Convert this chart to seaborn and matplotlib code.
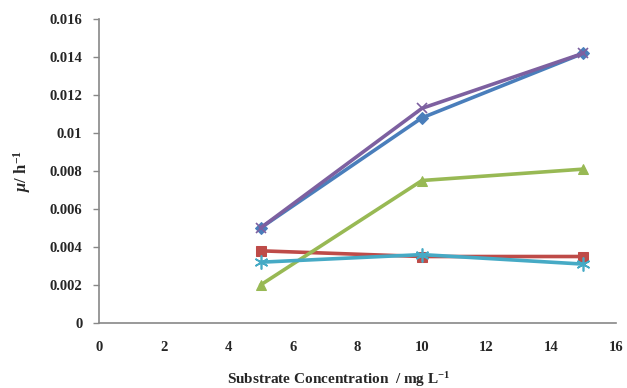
import matplotlib
matplotlib.use("Agg")
import matplotlib.pyplot as plt
import seaborn as sns
import pandas as pd

conc = [5, 10, 15]
series_names = ["S1", "S2", "S3", "S4", "S5"]
s1 = [0.0050, 0.0108, 0.0142]
s2 = [0.0038, 0.0035, 0.0035]
s3 = [0.0020, 0.0075, 0.0081]
s4 = [0.0050, 0.0113, 0.0142]
s5 = [0.0032, 0.0036, 0.0031]
xticks = [0, 2, 4, 6, 8, 10, 12, 14, 16]
yticks = [0, 0.002, 0.004, 0.006, 0.008, 0.01, 0.012, 0.014, 0.016]
ytick_labels = ["0", "0.002", "0.004", "0.006", "0.008", "0.01", "0.012", "0.014", "0.016"]

sns.set_style("white")
plt.rcParams['font.family'] = ['Liberation Serif', 'DejaVu Serif']
plt.rcParams['mathtext.fontset'] = 'custom'
plt.rcParams['mathtext.rm'] = 'Liberation Serif:bold'
plt.rcParams['mathtext.bf'] = 'Liberation Serif:bold'
plt.rcParams['mathtext.it'] = 'Liberation Serif:italic:bold'

fig = plt.figure(figsize=(6.27, 3.88), dpi=100)
ax = fig.add_axes([0.158, 0.1675, 0.824, 0.7835])

styles = [
    (s1, "#4A7EBB", "D", 6),
    (s2, "#BE4B48", "s", 7.5),
    (s3, "#98B954", "^", 7.5),
    (s4, "#7D60A0", "x", 7),
    (s5, "#46AAC5", (6, 2, 0), 10),
]
for name, (vals, col, mk, ms) in zip(series_names, styles):
    df = pd.DataFrame({"x": conc, "y": vals})
    kw = dict(markeredgecolor=col, markerfacecolor=col)
    if mk == "x" or isinstance(mk, tuple):
        kw["markeredgewidth"] = 1.2
    sns.lineplot(data=df, x="x", y="y", ax=ax, color=col, linewidth=2.6,
                 marker=mk, markersize=ms, **kw)

ax.set_xlim(0, 16)
ax.set_ylim(0, 0.016)
ax.set_xticks(xticks)
ax.set_yticks(yticks)
ax.set_yticklabels(ytick_labels)
for lab in ax.get_xticklabels() + ax.get_yticklabels():
    lab.set_fontweight("bold")
    lab.set_fontsize(10.5)

ax.tick_params(axis="y", direction="out", length=4, width=1, color="#888888", pad=8, left=True)
ax.tick_params(axis="x", length=0, pad=13, bottom=True)

for s in ["top", "right"]:
    ax.spines[s].set_visible(False)
for s in ["left", "bottom"]:
    ax.spines[s].set_color("#888888")
    ax.spines[s].set_linewidth(1.2)

ax.set_xlabel(r"Substrate Concentration  / mg L$^{-1}$", fontsize=11, fontweight="bold", labelpad=8)
ax.xaxis.set_label_coords(0.464, -0.155)
ax.set_ylabel(r"$\mathit{\mu}$/ h$^{-1}$", fontsize=12, fontweight="bold", labelpad=12)

fig.savefig("out.png", dpi=100)
